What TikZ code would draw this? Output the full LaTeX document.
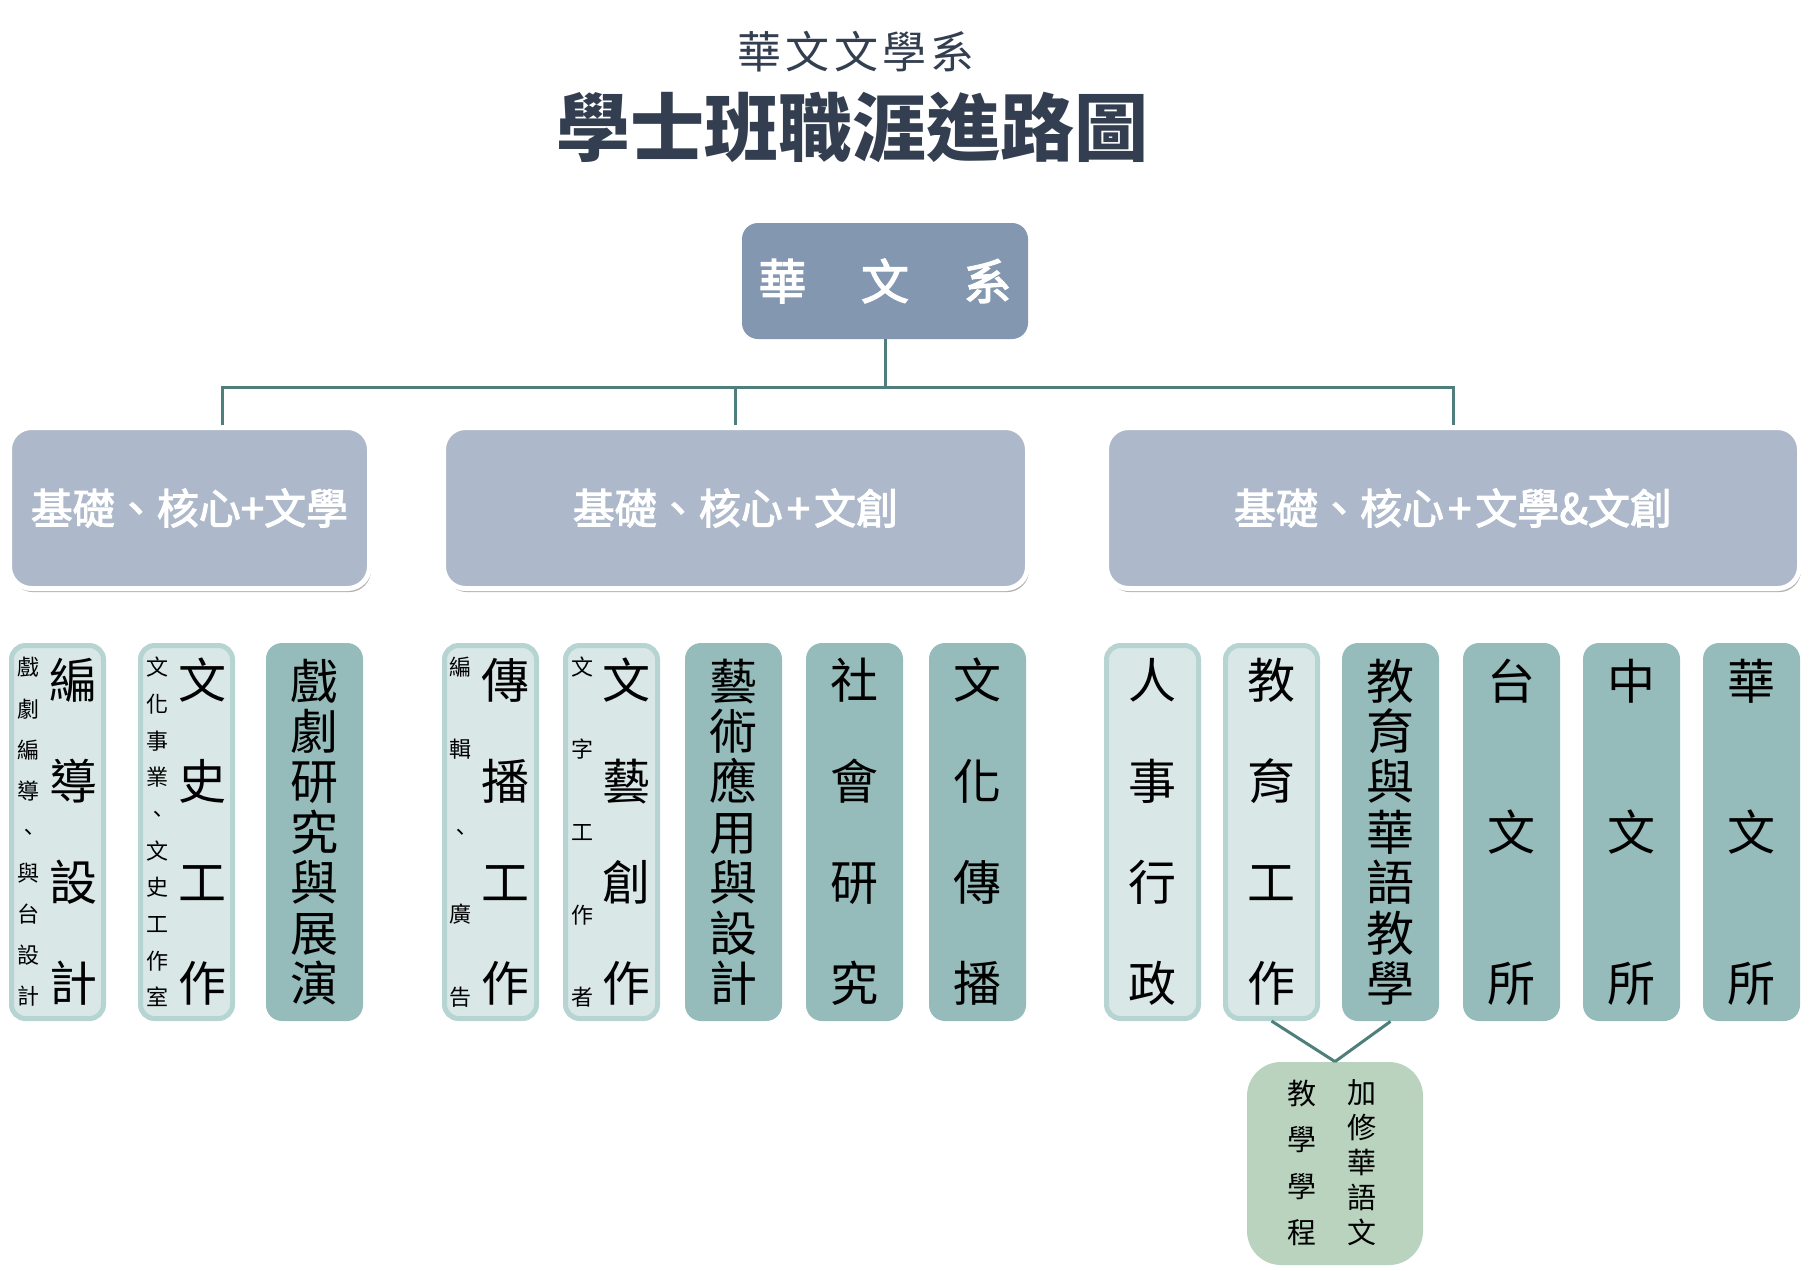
\documentclass[tikz,border=0pt]{standalone}
\usepackage{fontspec}
\newfontfamily\cjk{Noto Sans CJK TC}
\newfontfamily\cjkm[FakeBold=2.5]{Noto Sans CJK TC}
\usetikzlibrary{shadows}
\definecolor{titlec}{HTML}{333F50}
\definecolor{topc}{HTML}{8497B0}
\definecolor{midc}{HTML}{ADB9CA}
\definecolor{connc}{HTML}{4F7F7C}
\definecolor{lightf}{HTML}{DAE7E7}
\definecolor{lightb}{HTML}{B6D4D1}
\definecolor{darkf}{HTML}{95BBBB}
\definecolor{greenf}{HTML}{B9D3BF}
\begin{document}
\begin{tikzpicture}[x=0.5pt,y=-0.5pt,
  conn/.style={draw=connc, line width=1.5pt},
  midbox/.style={fill=midc, draw=white, line width=2.5pt, rounded corners=11pt,
    drop shadow={shadow xshift=0.8pt, shadow yshift=-1.8pt, opacity=0.3, fill=black},
    inner sep=0pt, minimum height=80.5pt},
  midtxt/.style={text=white, inner sep=0pt, font=\cjkm\fontsize{21}{24}\selectfont},
  lightcol/.style={draw=lightb, line width=2.5pt, fill=lightf, rounded corners=7pt,
    minimum width=46pt, minimum height=186.5pt, inner sep=0pt},
  darkcol/.style={fill=darkf, rounded corners=8pt, minimum width=48.5pt,
    minimum height=189pt, inner sep=0pt},
  vtxt/.style={inner sep=0pt, align=center, text=black},
  big4/.style={vtxt, font=\cjk\fontsize{24}{50.5}\selectfont},
  big7/.style={vtxt, font=\cjk\fontsize{24}{25.2}\selectfont},
  big3/.style={vtxt, font=\cjk\fontsize{24}{75.5}\selectfont},
]
\useasboundingbox (0,0) rectangle (1809,1270);
\fill[white] (0,0) rectangle (1809,1270);

% titles
\node[inner sep=0pt, text=titlec, font=\cjk\fontsize{22}{24}\selectfont] (subtitle) at (856,52)
  {華\hspace{2.2pt}文\hspace{2.2pt}文\hspace{2.2pt}學\hspace{2.2pt}系};
\node[inner sep=0pt, text=titlec, font=\cjk\bfseries\fontsize{37}{40}\selectfont] (title) at (852,127)
  {學士班職涯進路圖};

% top box
\node[fill=topc, rounded corners=8pt, minimum width=143pt, minimum height=58pt, inner sep=0pt,
  text=white, font=\cjkm\fontsize{24}{26}\selectfont] (top) at (885,281)
  {華\hspace{27.3pt}文\hspace{27.3pt}系};

% level 2
\node[midbox, minimum width=180pt] (box1) at (189.5,508) {};
\node[midbox, minimum width=292pt] (box2) at (735.5,508) {};
\node[midbox, minimum width=346.5pt] (box3) at (1453,508) {};
\node[midtxt] (b1t) at (box1) {基礎、核心+文學};
\node[midtxt] (b2t) at (box2) {基礎、核心\hspace{2pt}+\hspace{2pt}文創};
\node[midtxt] (b3t) at (box3) {基礎、核心\hspace{2pt}+\hspace{2pt}文學\&文創};

% connectors
\coordinate (bus) at (885,387);
\coordinate (d1) at (222,425);
\draw[conn] (top.south) -- (bus);
\draw[conn] (d1) |- (bus) -| (box3.north);
\draw[conn] (box2.north) -- (box2.north |- bus);

% bottom program box
\node[fill=greenf, rounded corners=17pt, minimum width=88pt, minimum height=101.5pt, inner sep=0pt] (prog) at (1335,1163.5) {};

% columns
\node[lightcol] (c1) at (57.5,832) {};
\node[lightcol] (c2) at (186.5,832) {};
\node[darkcol]  (c3) at (314.5,832) {};
\node[lightcol] (c4) at (490.5,832) {};
\node[lightcol] (c5) at (611.5,832) {};
\node[darkcol]  (c6) at (733.5,832) {};
\node[darkcol]  (c7) at (854.5,832) {};
\node[darkcol]  (c8) at (977.5,832) {};
\node[lightcol] (c9) at (1152.5,832) {};
\node[lightcol] (c10) at (1271.5,832) {};
\node[darkcol]  (c11) at (1390.5,832) {};
\node[darkcol]  (c12) at (1511.5,832) {};
\node[darkcol]  (c13) at (1631.5,832) {};
\node[darkcol]  (c14) at (1751.5,832) {};

\draw[conn] (c10.south) -- (prog.north);
\draw[conn] (c11.south) -- (prog.north);

% column texts
\node[big4] (t1) at (73,832) {編\\導\\設\\計};
\node[vtxt, font=\cjk\fontsize{11}{20.56}\selectfont] (s1) at (29,832) {戲\\劇\\編\\導\\、\\與\\台\\設\\計};
\node[big4] (t2) at (202,832) {文\\史\\工\\作};
\node[vtxt, font=\cjk\fontsize{11}{18.33}\selectfont] (s2) at (157,832) {文\\化\\事\\業\\、\\文\\史\\工\\作\\室};
\node[big7] (t3) at (314.5,832) {戲\\劇\\研\\究\\與\\展\\演};
\node[big4] (t4) at (505,832) {傳\\播\\工\\作};
\node[vtxt, font=\cjk\fontsize{11}{41.3}\selectfont] (s4) at (460,832) {編\\輯\\、\\廣\\告};
\node[big4] (t5) at (626,832) {文\\藝\\創\\作};
\node[vtxt, font=\cjk\fontsize{11}{41.3}\selectfont] (s5) at (582,832) {文\\字\\工\\作\\者};
\node[big7] (t6) at (733.5,832) {藝\\術\\應\\用\\與\\設\\計};
\node[big4] (t7) at (854.5,832) {社\\會\\研\\究};
\node[big4] (t8) at (977.5,832) {文\\化\\傳\\播};
\node[big4] (t9) at (1152.5,832) {人\\事\\行\\政};
\node[big4] (t10) at (1271.5,832) {教\\育\\工\\作};
\node[big7] (t11) at (1390.5,832) {教\\育\\與\\華\\語\\教\\學};
\node[big3] (t12) at (1511.5,832) {台\\文\\所};
\node[big3] (t13) at (1631.5,832) {中\\文\\所};
\node[big3] (t14) at (1751.5,832) {華\\文\\所};

% program texts
\node[vtxt, font=\cjk\fontsize{14.5}{17.5}\selectfont] (p1) at (1362,1163) {加\\修\\華\\語\\文};
\node[vtxt, font=\cjk\fontsize{14.5}{23.3}\selectfont] (p2) at (1302,1163) {教\\學\\學\\程};
\end{tikzpicture}
\end{document}
